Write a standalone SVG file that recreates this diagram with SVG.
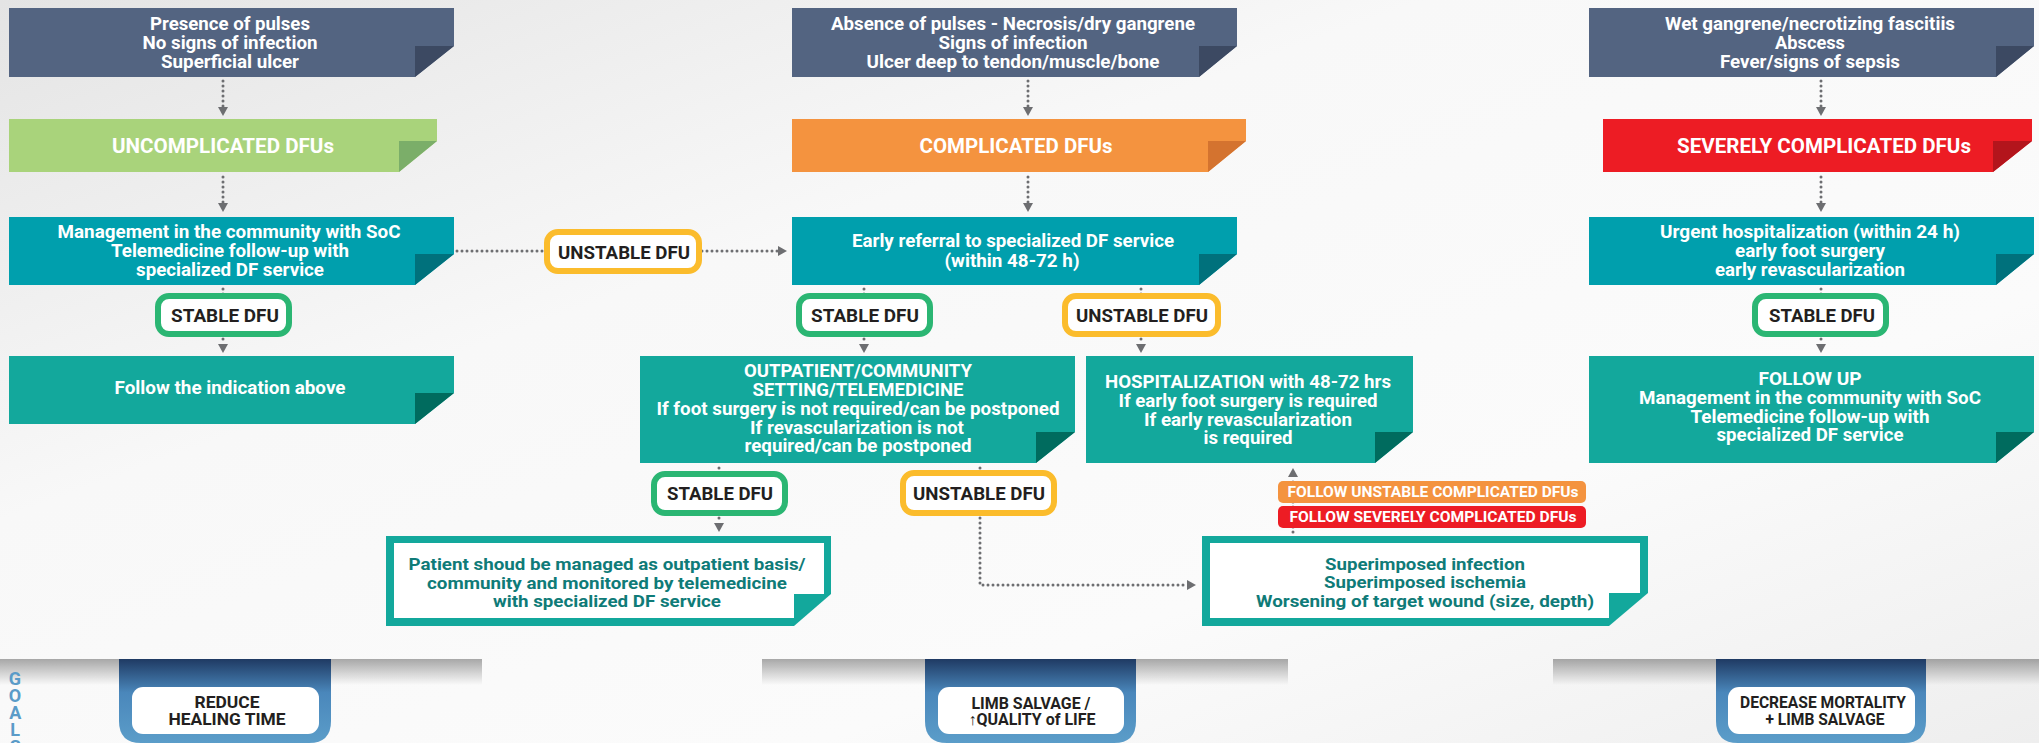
<svg xmlns="http://www.w3.org/2000/svg" width="2039" height="743" viewBox="0 0 2039 743">
<defs>
<style>
.t{font-family:Roboto,"Liberation Sans",Arial,sans-serif;font-weight:700;text-anchor:middle}
.w{fill:#fff;font-size:18.5px}
.h{fill:#fff;font-size:21px}
.b{fill:#231f20;font-size:19px}
.g{fill:#0f7b78;font-size:17px}
.f{fill:#fff;font-size:15px}
.tb{fill:#231f20;font-size:16px}
.conn{fill:none;stroke:#6d6e71;stroke-width:3;stroke-linecap:round;stroke-dasharray:0 5}
.sb{fill:#fff;stroke:#2bb673;stroke-width:6}
.ub{fill:#fff;stroke:#fbbc2c;stroke-width:6}
.slate{fill:#536481}.slateF{fill:#3c4962}
.teal{fill:#009fad}.tealF{fill:#00717c}
.tg{fill:#13a89c}.tgF{fill:#006b5e}
.gl{fill:#5a9bc8;font-family:Roboto,"Liberation Sans",Arial,sans-serif;font-weight:700;font-size:18px;letter-spacing:-4px;writing-mode:vertical-rl;text-orientation:upright}
</style>
<linearGradient id="bg" x1="0" y1="0" x2="1" y2="1">
<stop offset="0" stop-color="#e4e4e4"/>
<stop offset="0.35" stop-color="#f8f8f8"/>
<stop offset="0.7" stop-color="#fbfbfb"/>
<stop offset="1" stop-color="#eeeeee"/>
</linearGradient>
<linearGradient id="sh" x1="0" y1="0" x2="0" y2="1">
<stop offset="0" stop-color="#000" stop-opacity="0.33"/>
<stop offset="1" stop-color="#000" stop-opacity="0"/>
</linearGradient>
<linearGradient id="tabg" x1="0" y1="659" x2="0" y2="743" gradientUnits="userSpaceOnUse">
<stop offset="0" stop-color="#1f3a63"/>
<stop offset="0.4" stop-color="#4a87bb"/>
<stop offset="1" stop-color="#5b9dc9"/>
</linearGradient>
<marker id="ah" viewBox="0 0 9 10" refX="0" refY="5" markerWidth="9" markerHeight="10" markerUnits="userSpaceOnUse" orient="auto">
<path d="M0,0 L9,5 L0,10 z" fill="#6d6e71"/>
</marker>
</defs>

<rect x="0" y="0" width="2039" height="743" fill="url(#bg)"/>

<!-- shadows and tabs -->
<g id="goals">
<rect x="0" y="659" width="482" height="26" fill="url(#sh)"/>
<rect x="762" y="659" width="526" height="26" fill="url(#sh)"/>
<rect x="1553" y="659" width="486" height="26" fill="url(#sh)"/>
<text class="gl" x="15" y="668">GOALS</text>
</g>
<g id="goal1">
<path d="M119,659 H331 V721 Q331,743 309,743 H141 Q119,743 119,721 Z" fill="url(#tabg)"/>
<rect x="132" y="687" width="187" height="47" rx="11" fill="#fff"/>
<text class="t tb" x="227" y="708" textLength="65" lengthAdjust="spacingAndGlyphs">REDUCE</text>
<text class="t tb" x="227" y="725" textLength="117" lengthAdjust="spacingAndGlyphs">HEALING TIME</text>
</g>
<g id="goal2">
<path d="M925,659 H1136 V721 Q1136,743 1114,743 H947 Q925,743 925,721 Z" fill="url(#tabg)"/>
<rect x="938" y="687" width="186" height="47" rx="11" fill="#fff"/>
<text class="t tb" x="1031" y="709" textLength="119" lengthAdjust="spacingAndGlyphs">LIMB SALVAGE /</text>
<text class="t tb" x="1032" y="725" textLength="127" lengthAdjust="spacingAndGlyphs">↑QUALITY of LIFE</text>
</g>
<g id="goal3">
<path d="M1716,659 H1926 V721 Q1926,743 1904,743 H1738 Q1716,743 1716,721 Z" fill="url(#tabg)"/>
<rect x="1728" y="687" width="187" height="47" rx="11" fill="#fff"/>
<text class="t tb" x="1823" y="708" textLength="166" lengthAdjust="spacingAndGlyphs">DECREASE MORTALITY</text>
<text class="t tb" x="1825" y="725" textLength="119" lengthAdjust="spacingAndGlyphs">+ LIMB SALVAGE</text>
</g>

<!-- connectors -->
<g id="connectors">
<line class="conn" x1="223" y1="81" x2="223" y2="107" marker-end="url(#ah)"/>
<line class="conn" x1="223" y1="177" x2="223" y2="203" marker-end="url(#ah)"/>
<line class="conn" x1="223" y1="289" x2="223" y2="344" marker-end="url(#ah)"/>
<line class="conn" x1="457" y1="251" x2="778" y2="251" marker-end="url(#ah)"/>
<line class="conn" x1="1028" y1="81" x2="1028" y2="107" marker-end="url(#ah)"/>
<line class="conn" x1="1028" y1="177" x2="1028" y2="203" marker-end="url(#ah)"/>
<line class="conn" x1="864" y1="289" x2="864" y2="344" marker-end="url(#ah)"/>
<line class="conn" x1="1141" y1="289" x2="1141" y2="344" marker-end="url(#ah)"/>
<line class="conn" x1="719" y1="468" x2="719" y2="523" marker-end="url(#ah)"/>
<path class="conn" d="M980,468 V585 H1187" marker-end="url(#ah)"/>
<line class="conn" x1="1293" y1="532" x2="1293" y2="477" marker-end="url(#ah)"/>
<line class="conn" x1="1821" y1="81" x2="1821" y2="107" marker-end="url(#ah)"/>
<line class="conn" x1="1821" y1="177" x2="1821" y2="203" marker-end="url(#ah)"/>
<line class="conn" x1="1821" y1="289" x2="1821" y2="344" marker-end="url(#ah)"/>
</g>

<!-- column 1 -->
<g id="criteria-uncomplicated">
<polygon class="slate" points="9,8 454,8 454,46 415,77 9,77"/>
<polygon class="slateF" points="415,46 454,46 415,77"/>
<text class="t w" x="230" y="30" textLength="160" lengthAdjust="spacingAndGlyphs">Presence of pulses</text>
<text class="t w" x="230" y="49" textLength="175" lengthAdjust="spacingAndGlyphs">No signs of infection</text>
<text class="t w" x="230" y="68" textLength="138" lengthAdjust="spacingAndGlyphs">Superficial ulcer</text>
</g>
<g id="uncomplicated">
<polygon fill="#a9d37b" points="9,119 437,119 437,141 399,172 9,172"/>
<polygon fill="#7bae69" points="399,141 437,141 399,172"/>
<text class="t h" x="223" y="153" textLength="222" lengthAdjust="spacingAndGlyphs">UNCOMPLICATED DFUs</text>
</g>
<g id="management-community">
<polygon class="teal" points="9,217 454,217 454,254 415,285 9,285"/>
<polygon class="tealF" points="415,254 454,254 415,285"/>
<text class="t w" x="229" y="238" textLength="343" lengthAdjust="spacingAndGlyphs">Management in the community with SoC</text>
<text class="t w" x="230" y="257" textLength="238" lengthAdjust="spacingAndGlyphs">Telemedicine follow-up with</text>
<text class="t w" x="230" y="276" textLength="188" lengthAdjust="spacingAndGlyphs">specialized DF service</text>
</g>
<g id="stable-1">
<rect class="sb" x="158" y="296" width="131" height="38" rx="11"/>
<text class="t b" x="225" y="322" textLength="108" lengthAdjust="spacingAndGlyphs">STABLE DFU</text>
</g>
<g id="follow-indication">
<polygon class="tg" points="9,356 454,356 454,393 415,424 9,424"/>
<polygon class="tgF" points="415,393 454,393 415,424"/>
<text class="t w" x="230" y="394" textLength="231" lengthAdjust="spacingAndGlyphs">Follow the indication above</text>
</g>
<g id="unstable-1">
<rect class="ub" x="547" y="232" width="152" height="39" rx="11"/>
<text class="t b" x="624" y="259" textLength="132" lengthAdjust="spacingAndGlyphs">UNSTABLE DFU</text>
</g>

<!-- column 2 -->
<g id="criteria-complicated">
<polygon class="slate" points="792,8 1237,8 1237,46 1199,77 792,77"/>
<polygon class="slateF" points="1199,46 1237,46 1199,77"/>
<text class="t w" x="1013" y="30" textLength="364" lengthAdjust="spacingAndGlyphs">Absence of pulses - Necrosis/dry gangrene</text>
<text class="t w" x="1013" y="49" textLength="149" lengthAdjust="spacingAndGlyphs">Signs of infection</text>
<text class="t w" x="1013" y="68" textLength="293" lengthAdjust="spacingAndGlyphs">Ulcer deep to tendon/muscle/bone</text>
</g>
<g id="complicated">
<polygon fill="#f4933f" points="792,119 1246,119 1246,141 1208,172 792,172"/>
<polygon fill="#d4732f" points="1208,141 1246,141 1208,172"/>
<text class="t h" x="1016" y="153" textLength="193" lengthAdjust="spacingAndGlyphs">COMPLICATED DFUs</text>
</g>
<g id="early-referral">
<polygon class="teal" points="792,217 1237,217 1237,254 1199,285 792,285"/>
<polygon class="tealF" points="1199,254 1237,254 1199,285"/>
<text class="t w" x="1013" y="247" textLength="322" lengthAdjust="spacingAndGlyphs">Early referral to specialized DF service</text>
<text class="t w" x="1012" y="267" textLength="135" lengthAdjust="spacingAndGlyphs">(within 48-72 h)</text>
</g>
<g id="stable-2">
<rect class="sb" x="799" y="296" width="131" height="38" rx="11"/>
<text class="t b" x="865" y="322" textLength="108" lengthAdjust="spacingAndGlyphs">STABLE DFU</text>
</g>
<g id="unstable-2">
<rect class="ub" x="1065" y="296" width="153" height="38" rx="11"/>
<text class="t b" x="1142" y="322" textLength="132" lengthAdjust="spacingAndGlyphs">UNSTABLE DFU</text>
</g>
<g id="outpatient">
<polygon class="tg" points="640,356 1075,356 1075,432 1036,463 640,463"/>
<polygon class="tgF" points="1036,432 1075,432 1036,463"/>
<text class="t w" x="858" y="377" textLength="228" lengthAdjust="spacingAndGlyphs">OUTPATIENT/COMMUNITY</text>
<text class="t w" x="858" y="396" textLength="211" lengthAdjust="spacingAndGlyphs">SETTING/TELEMEDICINE</text>
<text class="t w" x="858" y="415" textLength="403" lengthAdjust="spacingAndGlyphs">If foot surgery is not required/can be postponed</text>
<text class="t w" x="857" y="434" textLength="214" lengthAdjust="spacingAndGlyphs">If revascularization is not</text>
<text class="t w" x="858" y="452" textLength="227" lengthAdjust="spacingAndGlyphs">required/can be postponed</text>
</g>
<g id="hospitalization">
<polygon class="tg" points="1086,356 1413,356 1413,432 1375,463 1086,463"/>
<polygon class="tgF" points="1375,432 1413,432 1375,463"/>
<text class="t w" x="1248" y="388" textLength="286" lengthAdjust="spacingAndGlyphs">HOSPITALIZATION with 48-72 hrs</text>
<text class="t w" x="1248" y="407" textLength="259" lengthAdjust="spacingAndGlyphs">If early foot surgery is required</text>
<text class="t w" x="1248" y="426" textLength="208" lengthAdjust="spacingAndGlyphs">If early revascularization</text>
<text class="t w" x="1248" y="444" textLength="89" lengthAdjust="spacingAndGlyphs">is required</text>
</g>
<g id="stable-3">
<rect class="sb" x="654" y="474" width="131" height="39" rx="11"/>
<text class="t b" x="720" y="500" textLength="106" lengthAdjust="spacingAndGlyphs">STABLE DFU</text>
</g>
<g id="unstable-3">
<rect class="ub" x="903" y="473" width="151" height="40" rx="11"/>
<text class="t b" x="979" y="500" textLength="132" lengthAdjust="spacingAndGlyphs">UNSTABLE DFU</text>
</g>
<g id="outpatient-management">
<polygon class="tg" points="386,536 831,536 831,594 794,626 386,626"/>
<polygon fill="#fff" points="394,543 824,543 824,594 794,594 794,618 394,618"/>
<text class="t g" x="607" y="570" textLength="397" lengthAdjust="spacingAndGlyphs">Patient shoud be managed as outpatient basis/</text>
<text class="t g" x="607" y="589" textLength="360" lengthAdjust="spacingAndGlyphs">community and monitored by telemedicine</text>
<text class="t g" x="607" y="607" textLength="228" lengthAdjust="spacingAndGlyphs">with specialized DF service</text>
</g>
<g id="follow-labels">
<rect x="1278" y="481" width="308" height="22" rx="5" fill="#f4933f"/>
<text class="t f" x="1433" y="497" textLength="291" lengthAdjust="spacingAndGlyphs">FOLLOW UNSTABLE COMPLICATED DFUs</text>
<rect x="1278" y="506" width="308" height="22" rx="5" fill="#ed1c24"/>
<text class="t f" x="1433" y="522" textLength="287" lengthAdjust="spacingAndGlyphs">FOLLOW SEVERELY COMPLICATED DFUs</text>
</g>
<g id="worsening">
<polygon class="tg" points="1202,536 1648,536 1648,593 1609,626 1202,626"/>
<polygon fill="#fff" points="1210,543 1640,543 1640,593 1609,593 1609,618 1210,618"/>
<text class="t g" x="1425" y="570" textLength="200" lengthAdjust="spacingAndGlyphs">Superimposed infection</text>
<text class="t g" x="1425" y="588" textLength="202" lengthAdjust="spacingAndGlyphs">Superimposed ischemia</text>
<text class="t g" x="1425" y="607" textLength="338" lengthAdjust="spacingAndGlyphs">Worsening of target wound (size, depth)</text>
</g>

<!-- column 3 -->
<g id="criteria-severe">
<polygon class="slate" points="1589,8 2034,8 2034,46 1996,77 1589,77"/>
<polygon class="slateF" points="1996,46 2034,46 1996,77"/>
<text class="t w" x="1810" y="30" textLength="290" lengthAdjust="spacingAndGlyphs">Wet gangrene/necrotizing fascitiis</text>
<text class="t w" x="1810" y="49" textLength="70" lengthAdjust="spacingAndGlyphs">Abscess</text>
<text class="t w" x="1810" y="68" textLength="180" lengthAdjust="spacingAndGlyphs">Fever/signs of sepsis</text>
</g>
<g id="severe">
<polygon fill="#ed1c24" points="1603,119 2032,119 2032,141 1993,172 1603,172"/>
<polygon fill="#b3151c" points="1993,141 2032,141 1993,172"/>
<text class="t h" x="1824" y="153" textLength="294" lengthAdjust="spacingAndGlyphs">SEVERELY COMPLICATED DFUs</text>
</g>
<g id="urgent-hospitalization">
<polygon class="teal" points="1589,217 2034,217 2034,254 1996,285 1589,285"/>
<polygon class="tealF" points="1996,254 2034,254 1996,285"/>
<text class="t w" x="1810" y="238" textLength="300" lengthAdjust="spacingAndGlyphs">Urgent hospitalization (within 24 h)</text>
<text class="t w" x="1810" y="257" textLength="150" lengthAdjust="spacingAndGlyphs">early foot surgery</text>
<text class="t w" x="1810" y="276" textLength="190" lengthAdjust="spacingAndGlyphs">early revascularization</text>
</g>
<g id="stable-4">
<rect class="sb" x="1755" y="296" width="131" height="38" rx="11"/>
<text class="t b" x="1822" y="322" textLength="106" lengthAdjust="spacingAndGlyphs">STABLE DFU</text>
</g>
<g id="follow-up">
<polygon class="tg" points="1589,356 2034,356 2034,432 1996,463 1589,463"/>
<polygon class="tgF" points="1996,432 2034,432 1996,463"/>
<text class="t w" x="1810" y="385" textLength="103" lengthAdjust="spacingAndGlyphs">FOLLOW UP</text>
<text class="t w" x="1810" y="404" textLength="342" lengthAdjust="spacingAndGlyphs">Management in the community with SoC</text>
<text class="t w" x="1810" y="423" textLength="239" lengthAdjust="spacingAndGlyphs">Telemedicine follow-up with</text>
<text class="t w" x="1810" y="441" textLength="187" lengthAdjust="spacingAndGlyphs">specialized DF service</text>
</g>
</svg>
